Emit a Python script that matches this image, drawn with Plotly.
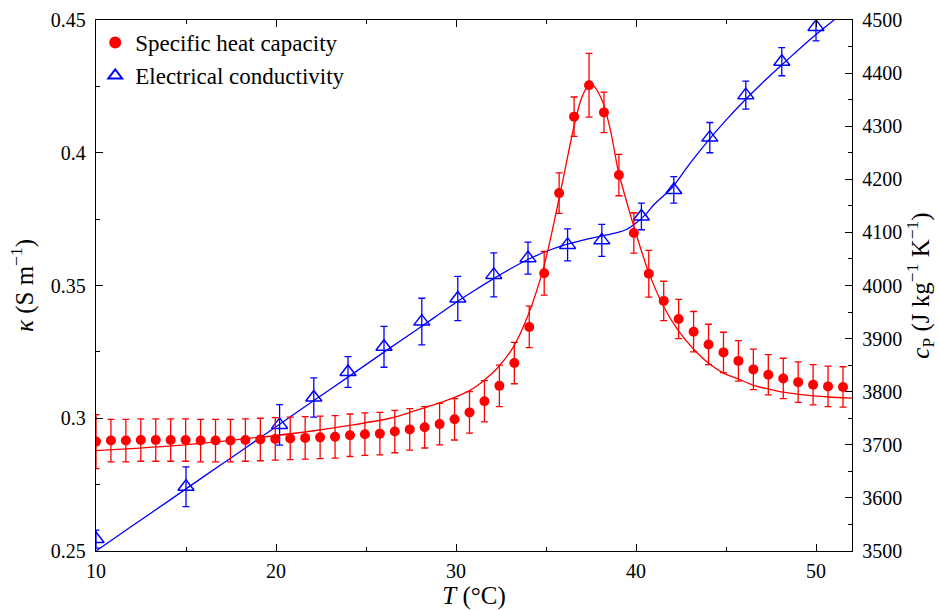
import plotly.graph_objects as go

# Specific heat capacity measurements (right axis)
T_cp = [10.0, 10.83, 11.66, 12.49, 13.32, 14.15, 14.98, 15.81, 16.64, 17.47,
        18.3, 19.13, 19.96, 20.79, 21.62, 22.45, 23.28, 24.11, 24.94, 25.77,
        26.6, 27.43, 28.26, 29.09, 29.92, 30.75, 31.58, 32.41, 33.24, 34.07,
        34.9, 35.73, 36.56, 37.39, 38.22, 39.05, 39.88, 40.71, 41.54, 42.37,
        43.2, 44.03, 44.86, 45.69, 46.52, 47.35, 48.18, 49.01, 49.84, 50.67, 51.5]
cp = [3706, 3708, 3708, 3709, 3709, 3709, 3709, 3708, 3708, 3708,
      3709, 3710, 3711, 3712, 3713, 3714, 3715, 3718, 3720, 3721,
      3725, 3729, 3733, 3739, 3748, 3761, 3782, 3811, 3854, 3922,
      4023, 4174, 4318, 4377, 4326, 4208, 4099, 4022, 3971, 3937,
      3913, 3889, 3874, 3858, 3842, 3832, 3825, 3818, 3813, 3810, 3809]
cp_err = [51, 40, 40, 40, 40, 40, 40, 40, 40, 40,
          40, 40, 40, 40, 40, 40, 40, 40, 40, 40,
          40, 39, 39, 39, 39, 39, 39, 39, 39, 39,
          41, 38, 37, 60, 38, 39, 38, 44, 37, 37,
          38, 38, 38, 38, 38, 38, 38, 38, 38, 38, 38]

# Fitted curve for specific heat
T_cp_fit = [10.0, 14.96, 18.53, 22.0, 24.0, 26.34, 27.62, 29.52, 30.75, 31.36,
            32.31, 33.2, 33.98, 34.87, 35.71, 36.55, 36.94, 37.33, 37.5, 37.66,
            38.16, 38.61, 39.0, 39.56, 39.89, 40.67, 41.51, 42.35, 43.18, 44.02,
            44.86, 45.69, 46.53, 47.37, 48.2, 49.04, 49.88, 50.71, 52.0]
cp_fit = [3689, 3700, 3712, 3726, 3736, 3750, 3763, 3784, 3802, 3816,
          3845, 3885, 3942, 4034, 4161, 4299, 4350, 4376, 4380, 4376,
          4345, 4288, 4218, 4148, 4110, 4028, 3962, 3915, 3881, 3854,
          3835, 3824, 3812, 3805, 3799, 3795, 3792, 3790, 3788]

# Electrical conductivity measurements (left axis)
T_kappa = [10.0, 15.0, 20.2, 22.1, 24.0, 26.0, 28.1, 30.1, 32.1, 34.0,
           36.2, 38.1, 40.3, 42.1, 44.1, 46.1, 48.1, 50.0]
kappa = [0.2545, 0.2742, 0.2975, 0.3078, 0.3174, 0.3269, 0.3364, 0.3451, 0.3540, 0.3603,
         0.3653, 0.3670, 0.3760, 0.3860, 0.4057, 0.4217, 0.4343, 0.4474]
kappa_err = [0.0034, 0.0075, 0.0076, 0.0074, 0.0058, 0.0077, 0.0088, 0.0083, 0.0083, 0.0060,
             0.0060, 0.0060, 0.0050, 0.0050, 0.0057, 0.0053, 0.0053, 0.0053]

# Fitted curve for conductivity
T_kappa_fit = [10, 12, 14, 16, 18, 20, 22, 24, 26, 28, 30, 31, 32, 33, 34, 35, 36, 37,
               38, 39, 39.5, 40, 40.5, 41, 42, 43, 44, 45, 46, 47, 48, 49, 50, 51, 52]
kappa_fit = [0.2500, 0.2594, 0.2687, 0.2781, 0.2874, 0.2968, 0.3062, 0.3155, 0.3249,
             0.3342, 0.3436, 0.3480, 0.3522, 0.3562, 0.3598, 0.3628, 0.3652, 0.3670,
             0.3685, 0.3700, 0.3712, 0.3735, 0.3765, 0.3805, 0.3868, 0.3960, 0.4045,
             0.4123, 0.4195, 0.4262, 0.4325, 0.4386, 0.4445, 0.4500, 0.4553]

x_ticks = [10, 20, 30, 40, 50]
y_ticks = [0.25, 0.3, 0.35, 0.4, 0.45]
y_ticktext = ["0.25", "0.3", "0.35", "0.4", "0.45"]
y2_ticks = [3500, 3600, 3700, 3800, 3900, 4000, 4100, 4200, 4300, 4400, 4500]

RED = "#ff0000"
BLUE = "#0000ff"
FONT = "Liberation Serif"

fig = go.Figure()

fig.add_trace(go.Scatter(
    x=T_cp, y=cp, yaxis="y2", mode="markers", name="Specific heat capacity",
    marker=dict(symbol="circle", size=10, color=RED),
    error_y=dict(type="data", array=cp_err, color=RED, thickness=1.3, width=3.5),
))
fig.add_trace(go.Scatter(
    x=T_kappa, y=kappa, yaxis="y", mode="markers", name="Electrical conductivity",
    marker=dict(symbol="triangle-up-open", size=14, color=BLUE, line=dict(width=1.5, color=BLUE)),
    error_y=dict(type="data", array=kappa_err, color=BLUE, thickness=1.3, width=3.5),
))
fig.add_trace(go.Scatter(
    x=T_cp_fit, y=cp_fit, yaxis="y2", mode="lines", showlegend=False,
    line=dict(color=RED, width=1.3, shape="spline", smoothing=0.8),
))
fig.add_trace(go.Scatter(
    x=T_kappa_fit, y=kappa_fit, yaxis="y", mode="lines", showlegend=False,
    line=dict(color=BLUE, width=1.3, shape="spline", smoothing=0.8),
))

axis_common = dict(
    showline=True, linecolor="black", linewidth=1.3, ticks="inside", ticklen=7,
    tickwidth=1, tickcolor="black", showgrid=False, zeroline=False, automargin=False,
    tickfont=dict(family=FONT, size=20, color="black"),
)

fig.update_layout(
    width=939, height=610,
    margin=dict(l=96, r=87, t=20, b=59),
    paper_bgcolor="white", plot_bgcolor="white",
    font=dict(family=FONT, color="black"),
    showlegend=True,
    legend=dict(x=-0.001, y=0.998, xanchor="left", yanchor="top",
                bgcolor="rgba(0,0,0,0)", borderwidth=0,
                font=dict(family=FONT, size=23, color="black"),
                itemsizing="constant", tracegroupgap=0),
    xaxis=dict(
        range=[10, 52], tickvals=x_ticks, mirror="ticks", ticklabelstandoff=2,
        minor=dict(ticks="inside", ticklen=4, tickmode="linear", tick0=10, dtick=5, tickcolor="black"),
        title=dict(text="<i>T</i> (°C)", font=dict(family=FONT, size=25), standoff=6),
        **axis_common,
    ),
    yaxis=dict(
        range=[0.25, 0.45], tickvals=y_ticks, ticktext=y_ticktext, ticklabelstandoff=5,
        minor=dict(ticks="inside", ticklen=4, tickmode="linear", tick0=0.25, dtick=0.025, tickcolor="black"),
        title=dict(text="<i>κ</i> (S m<sup>−1</sup>)", font=dict(family=FONT, size=25), standoff=10),
        **axis_common,
    ),
    yaxis2=dict(
        range=[3500, 4500], tickvals=y2_ticks, overlaying="y", side="right", anchor="x",
        ticklabelstandoff=5,
        minor=dict(ticks="inside", ticklen=4, tickmode="linear", tick0=3500, dtick=50, tickcolor="black"),
        title=dict(text="<i>c</i><sub>P</sub> (J kg<sup>−1</sup> K<sup>−1</sup>)", font=dict(family=FONT, size=25), standoff=6),
        **axis_common,
    ),
)

fig.write_html("out.html", config={"displayModeBar": False},
               post_script="document.body.style.margin='0';")
